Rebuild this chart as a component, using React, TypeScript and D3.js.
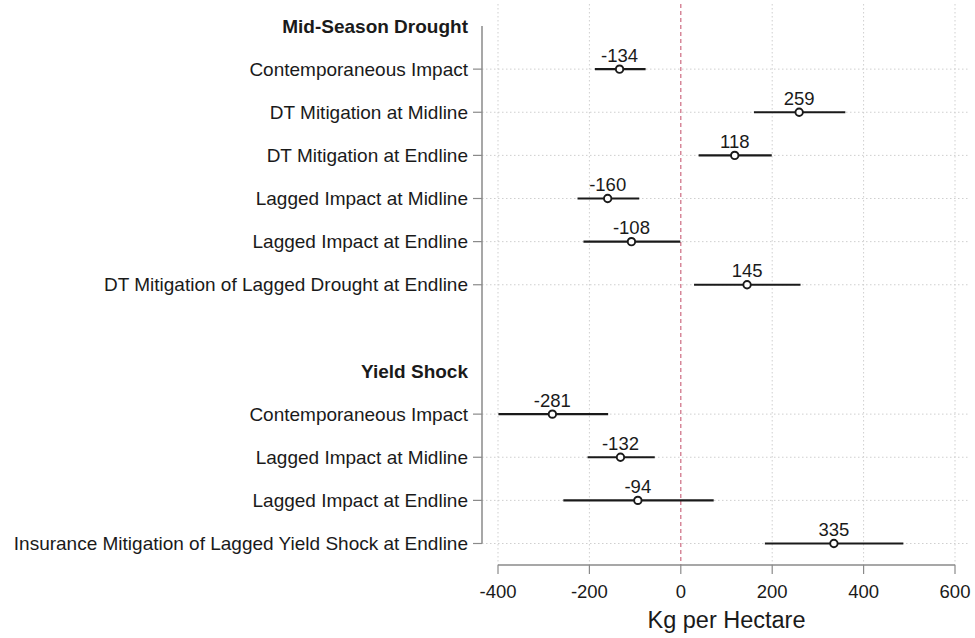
import React from 'react';
import * as d3 from 'd3';

// rows top to bottom; headers and blank spacer included so indexes line up with y positions
const rowLabels = [
  'Mid-Season Drought',
  'Contemporaneous Impact',
  'DT Mitigation at Midline',
  'DT Mitigation at Endline',
  'Lagged Impact at Midline',
  'Lagged Impact at Endline',
  'DT Mitigation of Lagged Drought at Endline',
  '',
  'Yield Shock',
  'Contemporaneous Impact',
  'Lagged Impact at Midline',
  'Lagged Impact at Endline',
  'Insurance Mitigation of Lagged Yield Shock at Endline',
];
const headerRows = [0, 8];

// estimates for the item rows (null = header / spacer)
const estimates = [null, -134, 259, 118, -160, -108, 145, null, null, -281, -132, -94, 335];
const ciLow = [null, -188, 160, 39, -226, -213, 29, null, null, -399, -204, -257, 184];
const ciHigh = [null, -77, 360, 199, -91, -1, 262, null, null, -159, -57, 72, 487];

const xTicks = [-400, -200, 0, 200, 400, 600];
const xTitle = 'Kg per Hectare';

const W = 975;
const H = 638;
const font = '"Liberation Sans", Arial, sans-serif';

export default function App() {
  const x = d3.scaleLinear().domain([-400, 600]).range([498, 955]);
  const y = d3.scaleLinear().domain([0, rowLabels.length - 1]).range([26, 543.5]);

  const axisX = 482;
  const xAxisY = 565;
  const items = rowLabels
    .map((label, i) => ({ label, i, est: estimates[i], lo: ciLow[i], hi: ciHigh[i] }))
    .filter(d => d.est !== null);

  return (
    <svg width={W} height={H} style={{ display: 'block', position: 'absolute', left: 0, top: 0 }}>
      <rect width={W} height={H} fill="#fff" />

      {/* vertical grid */}
      {xTicks.filter(t => t !== 0).map(t => (
        <line key={'vg' + t} x1={x(t)} x2={x(t)} y1={4} y2={xAxisY}
          stroke="#cfcfcf" strokeWidth={1} strokeDasharray="1.5,2.5" />
      ))}
      {/* horizontal grid at item rows */}
      {items.map(d => (
        <line key={'hg' + d.i} x1={axisX} x2={970} y1={y(d.i)} y2={y(d.i)}
          stroke="#cfcfcf" strokeWidth={1} strokeDasharray="1.5,2.5" />
      ))}

      {/* zero line */}
      <line x1={x(0)} x2={x(0)} y1={4} y2={xAxisY} stroke="#cc6a80" strokeWidth={1.2} strokeDasharray="4,3" />

      {/* y axis */}
      <line x1={axisX} x2={axisX} y1={y(0)} y2={y(rowLabels.length - 1)} stroke="#8a8a8a" strokeWidth={1.5} />
      {items.map(d => (
        <line key={'yt' + d.i} x1={axisX - 9} x2={axisX} y1={y(d.i)} y2={y(d.i)} stroke="#8a8a8a" strokeWidth={1.2} />
      ))}
      {rowLabels.map((label, i) => label ? (
        <text key={'yl' + i} x={468} y={y(i)} dy="0.35em" textAnchor="end"
          fontFamily={font} fontSize={19}
          fontWeight={headerRows.includes(i) ? 'bold' : 'normal'} fill="#1a1a1a">
          {label}
        </text>
      ) : null)}

      {/* x axis */}
      <line x1={x(-400)} x2={x(600)} y1={xAxisY} y2={xAxisY} stroke="#8a8a8a" strokeWidth={1.5} />
      {xTicks.map(t => (
        <g key={'xt' + t}>
          <line x1={x(t)} x2={x(t)} y1={xAxisY} y2={xAxisY + 9} stroke="#8a8a8a" strokeWidth={1.2} />
          <text x={x(t)} y={598} textAnchor="middle" fontFamily={font} fontSize={18.5} fill="#1a1a1a">{t}</text>
        </g>
      ))}
      <text x={x(100)} y={628} textAnchor="middle" fontFamily={font} fontSize={23.5} fill="#1a1a1a">{xTitle}</text>

      {/* estimates */}
      {items.map(d => (
        <g key={'pt' + d.i}>
          <line x1={x(d.lo as number)} x2={x(d.hi as number)} y1={y(d.i)} y2={y(d.i)} stroke="#1a1a1a" strokeWidth={2.2} />
          <circle cx={x(d.est as number)} cy={y(d.i)} r={3.7} fill="#fff" stroke="#1a1a1a" strokeWidth={1.9} />
          <text x={x(d.est as number)} y={y(d.i) - 7.5} textAnchor="middle" fontFamily={font} fontSize={18.5} fill="#1a1a1a">
            {d.est}
          </text>
        </g>
      ))}
    </svg>
  );
}
